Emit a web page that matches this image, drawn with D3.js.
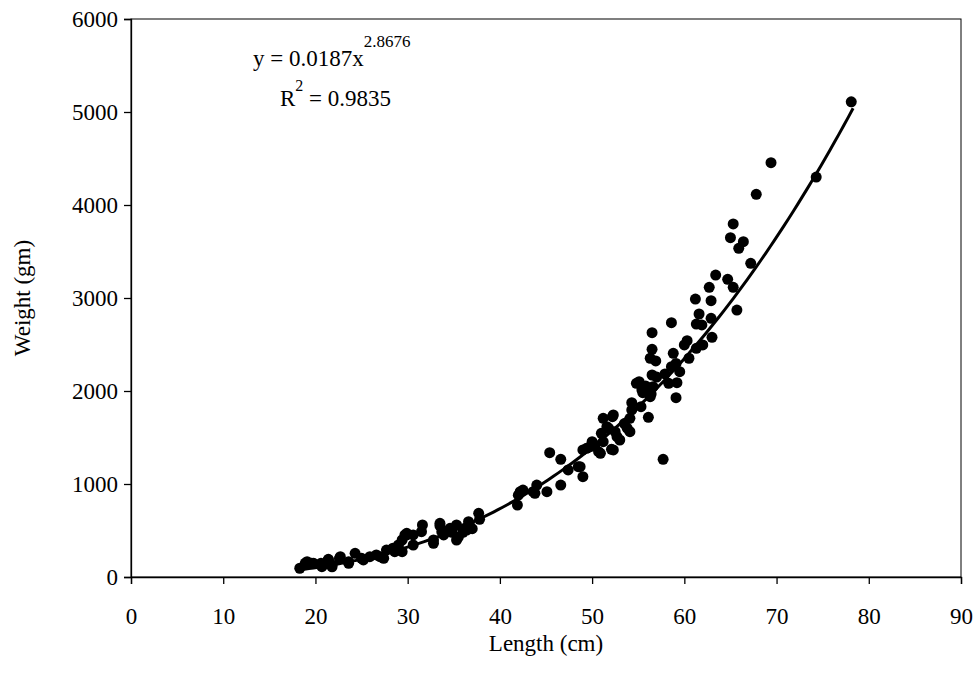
<!DOCTYPE html>
<html>
<head>
<meta charset="utf-8">
<script src="https://cdn.jsdelivr.net/npm/d3@7"></script>
<style>
  body { margin: 0; background: #fff; }
</style>
</head>
<body>
<script>
// length (cm) and weight (gm) of each fish
var lengths = [
  78.1, 74.3, 69.4, 67.8, 65.3, 65.0, 66.4, 65.9, 67.2, 63.4, 64.7, 62.7, 65.3, 61.2, 62.9, 65.7,
  61.6, 62.9, 61.3, 61.9, 58.6, 56.5, 63.0, 62.0, 60.3, 60.0, 61.3, 56.5, 56.3, 58.8, 60.5, 59.1,
  59.5, 58.6, 56.5, 57.9, 55.1, 55.8, 56.6, 58.3, 59.2, 55.5, 56.4, 59.1, 54.3, 55.3, 56.1, 54.3,
  51.2, 52.2, 54.1, 51.6, 52.5, 54.1, 51.0, 53.0, 52.1, 49.8, 49.0, 50.9, 45.4, 46.6, 57.7, 48.5,
  47.4, 49.0, 56.9, 55.4, 56.3, 54.8, 49.4, 50.0, 52.3, 51.8, 52.7, 51.2, 52.3, 50.7, 48.7, 53.5,
  50.3, 53.8, 57.0,
  46.6, 44.0, 45.1, 43.6, 42.2, 41.9, 42.0, 42.5, 43.8, 37.7, 37.8, 36.6, 36.7, 36.2, 36.4, 35.3,
  35.3, 35.5, 34.6, 33.5, 33.5, 33.7, 33.9, 32.8, 32.8, 31.6, 31.5, 30.6, 29.9, 29.9, 30.6, 29.4,
  29.4, 28.4, 27.7, 27.0, 29.0, 29.7, 28.6, 27.4, 26.6, 25.9, 25.2, 25.0, 24.3, 23.6, 23.6, 22.7,
  22.6, 21.8, 21.4, 21.4, 20.7, 20.6, 19.8, 19.6, 19.1, 18.9, 18.3, 21.8, 34.8, 36.0, 37.0
];
var weights = [
  5110, 4300, 4455, 4115, 3796, 3649, 3606, 3534, 3373, 3247, 3201, 3115, 3115, 2989, 2971, 2870,
  2828, 2782, 2720, 2710, 2735, 2627, 2577, 2495, 2541, 2495, 2459, 2448, 2352, 2405, 2352, 2297,
  2208, 2261, 2172, 2183, 2100, 2054, 2046, 2083, 2089, 1982, 1968, 1928, 1874, 1831, 1717, 1796,
  1706, 1724, 1706, 1616, 1563, 1563, 1545, 1473, 1373, 1401, 1366, 1330, 1337, 1265, 1265, 1186,
  1151, 1079, 2323, 2011, 1939, 2083, 1384, 1455, 1742, 1599, 1509, 1455, 1366, 1348, 1186, 1650,
  1420, 1600, 2150,
  989, 989, 917, 917, 917, 774, 880, 935, 900, 685, 620, 595, 560, 523, 505, 559,
  398, 430, 523, 577, 550, 487, 452, 398, 362, 559, 487, 452, 452, 470, 344, 398,
  272, 309, 290, 218, 344, 452, 272, 201, 237, 218, 183, 201, 255, 165, 147, 218,
  200, 129, 190, 183, 111, 147, 147, 147, 165, 150, 94, 110, 480, 480, 520
];
var xTicks = [0, 10, 20, 30, 40, 50, 60, 70, 80, 90];
var yTicks = [0, 1000, 2000, 3000, 4000, 5000, 6000];

// power trendline shown on the chart
var fitA = 0.0187, fitB = 2.8676;
var fitFrom = 18.3, fitTo = 78.4;

var serif = "Liberation Serif";
var width = 978, height = 688;
var margin = {left: 131, right: 17, top: 19, bottom: 111};
var w = width - margin.left - margin.right;
var h = height - margin.top - margin.bottom;

var x = d3.scaleLinear().domain([0, 90]).range([0, w]);
var y = d3.scaleLinear().domain([0, 6000]).range([h, 0]);

var svg = d3.select("body").append("svg").attr("width", width).attr("height", height)
  .attr("font-family", serif);
var g = svg.append("g").attr("transform", "translate(" + margin.left + "," + margin.top + ")");

g.append("rect").attr("width", w).attr("height", h)
  .attr("fill", "none").attr("stroke", "#000").attr("stroke-width", 1);

var xAxis = g.append("g").attr("transform", "translate(0," + h + ")")
  .call(d3.axisBottom(x).tickValues(xTicks).tickFormat(d3.format("d")).tickSize(7).tickPadding(24));
var yAxis = g.append("g")
  .call(d3.axisLeft(y).tickValues(yTicks).tickFormat(d3.format("d")).tickSize(7).tickPadding(6));
[xAxis, yAxis].forEach(function(a) {
  a.attr("font-family", serif).attr("font-size", 23);
  a.selectAll("text").attr("fill", "#000");
  a.selectAll("line, path").attr("stroke", "#000").attr("stroke-width", 1.3);
});

// points
var pts = lengths.map(function(l, i) { return {L: l, W: weights[i]}; });
g.selectAll("circle.pt").data(pts).enter().append("circle")
  .attr("class", "pt")
  .attr("cx", function(d) { return x(d.L); })
  .attr("cy", function(d) { return y(d.W); })
  .attr("r", 5.5)
  .attr("fill", "#000");

// trendline
var fit = d3.range(fitFrom, fitTo + 0.01, 0.5).map(function(l) { return [l, fitA * Math.pow(l, fitB)]; });
g.append("path")
  .attr("d", d3.line().x(function(d) { return x(d[0]); }).y(function(d) { return y(d[1]); })(fit))
  .attr("fill", "none").attr("stroke", "#000").attr("stroke-width", 3);

// equation
var eq = svg.append("text").attr("x", 253).attr("y", 66).attr("font-size", 23);
eq.append("tspan").text("y = 0.0187x");
eq.append("tspan").attr("dy", -19).attr("font-size", 17).text("2.8676");
var r2 = svg.append("text").attr("x", 280).attr("y", 106).attr("font-size", 23);
r2.append("tspan").text("R");
r2.append("tspan").attr("dy", -15).attr("font-size", 16).text("2");
r2.append("tspan").attr("dy", 15).text(" = 0.9835");

svg.append("text").attr("text-anchor", "middle")
  .attr("x", margin.left + w / 2).attr("y", 651)
  .attr("font-size", 23).text("Length (cm)");

svg.append("text").attr("text-anchor", "middle")
  .attr("transform", "translate(30," + (margin.top + h / 2) + ")rotate(-90)")
  .attr("font-size", 23).text("Weight (gm)");
</script>
</body>
</html>
